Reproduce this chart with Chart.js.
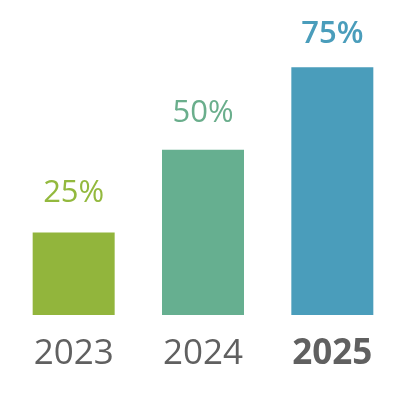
<!DOCTYPE html>
<html>
<head>
<meta charset="utf-8">
<script src="https://cdn.jsdelivr.net/npm/chart.js@4/dist/chart.umd.min.js"></script>
<style>
html,body{margin:0;padding:0;background:#fff;}
#wrap{width:398px;height:418px;position:relative;}
</style>
</head>
<body>
<div id="wrap"><canvas id="c"></canvas></div>
<script>
const categories = ['2023', '2024', '2025'];
const values = [25, 50, 75];
const valueLabels = ['25%', '50%', '75%'];
const barColors = ['#92b53c', '#66af90', '#4a9dbb'];
const labelColors = ['#93b93e', '#6aae8c', '#4a9dbb'];
const boldIndex = 2;
const labelGaps = [30, 28, 24];

const labelPlugin = {
  id: 'valueLabels',
  afterDatasetsDraw(chart) {
    const ctx = chart.ctx;
    const meta = chart.getDatasetMeta(0);
    ctx.save();
    ctx.textAlign = 'center';
    ctx.textBaseline = 'alphabetic';
    meta.data.forEach((bar, i) => {
      ctx.font = (i === boldIndex ? '600 ' : '400 ') + '31px "Open Sans"';
      ctx.fillStyle = labelColors[i];
      ctx.fillText(valueLabels[i], bar.x, bar.y - labelGaps[i]);
    });
    ctx.restore();
  }
};

new Chart(document.getElementById('c'), {
  type: 'bar',
  data: {
    labels: categories,
    datasets: [{
      data: values,
      backgroundColor: barColors,
      borderWidth: 0,
      categoryPercentage: 1,
      barPercentage: 0.634
    }]
  },
  options: {
    responsive: true,
    maintainAspectRatio: false,
    animation: false,
    layout: { padding: { left: 9, right: 1, top: 11, bottom: 25 } },
    plugins: { legend: { display: false }, tooltip: { enabled: false } },
    scales: {
      x: {
        grid: { display: false, drawTicks: false },
        border: { display: false },
        ticks: {
          color: '#606060',
          padding: 18,
          font: (ctx) => ({ family: '"Open Sans"', size: 35, weight: ctx.index === boldIndex ? 'bold' : 'normal' })
        }
      },
      y: {
        display: false,
        min: 0,
        max: 92
      }
    }
  },
  plugins: [labelPlugin]
});
</script>
</body>
</html>
